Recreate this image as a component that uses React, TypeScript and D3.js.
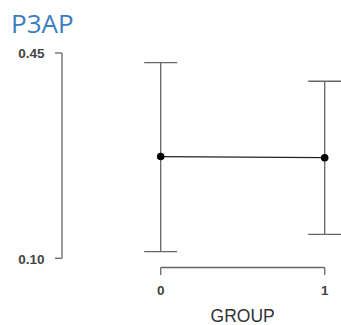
import React, { useRef, useEffect } from 'react';
import * as d3 from 'd3';

const title = 'P3AP';
const groups = [0, 1];
const means = [0.2735, 0.2715];
const lower = [0.1113, 0.1409];
const upper = [0.4335, 0.4018];
const yTicks = [0.1, 0.45];
const xLabel = 'GROUP';

const W = 341;
const H = 325;

const App: React.FC = () => {
  const svgRef = useRef<SVGSVGElement | null>(null);

  useEffect(() => {
    const svg = d3.select(svgRef.current);
    svg.selectAll('*').remove();

    const x = d3.scaleLinear().domain([0, 1]).range([160.7, 324.7]);
    const y = d3.scaleLinear().domain([0.1, 0.45]).range([258.3, 53]);
    const gray = '#666';
    const capHalf = 16.5;
    const font = '"Liberation Sans", Arial, sans-serif';

    // title
    svg.append('text')
      .attr('x', 11)
      .attr('y', 33)
      .attr('font-family', '"Open Sans", sans-serif')
      .attr('font-size', 26)
      .attr('fill', '#3b7dc2')
      .text(title);

    // y axis (R style, spanning tick range)
    const yAxisX = 62;
    svg.append('line')
      .attr('x1', yAxisX).attr('x2', yAxisX)
      .attr('y1', y(yTicks[0])).attr('y2', y(yTicks[yTicks.length - 1]))
      .attr('stroke', gray).attr('stroke-width', 1.3);
    const yt = svg.append('g').selectAll('g').data(yTicks).join('g');
    yt.append('line')
      .attr('x1', yAxisX - 7).attr('x2', yAxisX)
      .attr('y1', d => y(d)).attr('y2', d => y(d))
      .attr('stroke', gray).attr('stroke-width', 1.3);
    yt.append('text')
      .attr('x', 44.5)
      .attr('y', d => y(d))
      .attr('dy', '0.4em')
      .attr('text-anchor', 'end')
      .attr('font-family', font)
      .attr('font-size', 13.5)
      .attr('font-weight', 'bold')
      .attr('fill', '#444')
      .text(d => d3.format('.2f')(d));

    // x axis
    const xAxisY = 267.5;
    svg.append('line')
      .attr('x1', x(groups[0])).attr('x2', x(groups[groups.length - 1]))
      .attr('y1', xAxisY).attr('y2', xAxisY)
      .attr('stroke', gray).attr('stroke-width', 1.3);
    const xt = svg.append('g').selectAll('g').data(groups).join('g');
    xt.append('line')
      .attr('x1', d => x(d)).attr('x2', d => x(d))
      .attr('y1', xAxisY).attr('y2', xAxisY + 7.5)
      .attr('stroke', gray).attr('stroke-width', 1.3);
    xt.append('text')
      .attr('x', d => x(d))
      .attr('y', 294.5)
      .attr('text-anchor', 'middle')
      .attr('font-family', font)
      .attr('font-size', 13.5)
      .attr('font-weight', 'bold')
      .attr('fill', '#444')
      .text(d => String(d));

    svg.append('text')
      .attr('x', (x(groups[0]) + x(groups[1])) / 2)
      .attr('y', 321.5)
      .attr('text-anchor', 'middle')
      .attr('font-family', font)
      .attr('font-size', 17.5)
      .attr('fill', '#333')
      .text(xLabel);

    // error bars
    const eb = svg.append('g').selectAll('g').data(groups).join('g');
    eb.append('line')
      .attr('x1', d => x(d)).attr('x2', d => x(d))
      .attr('y1', (d, i) => y(lower[i])).attr('y2', (d, i) => y(upper[i]))
      .attr('stroke', gray).attr('stroke-width', 1.3);
    eb.append('line')
      .attr('x1', d => x(d) - capHalf).attr('x2', d => x(d) + capHalf)
      .attr('y1', (d, i) => y(upper[i])).attr('y2', (d, i) => y(upper[i]))
      .attr('stroke', gray).attr('stroke-width', 1.3);
    eb.append('line')
      .attr('x1', d => x(d) - capHalf).attr('x2', d => x(d) + capHalf)
      .attr('y1', (d, i) => y(lower[i])).attr('y2', (d, i) => y(lower[i]))
      .attr('stroke', gray).attr('stroke-width', 1.3);

    // mean line + points
    const line = d3.line<number>()
      .x((d, i) => x(groups[i]))
      .y(d => y(d));
    svg.append('path')
      .datum(means)
      .attr('d', line)
      .attr('fill', 'none')
      .attr('stroke', '#222')
      .attr('stroke-width', 1.3);
    svg.append('g').selectAll('circle').data(means).join('circle')
      .attr('cx', (d, i) => x(groups[i]))
      .attr('cy', d => y(d))
      .attr('r', 3.8)
      .attr('fill', '#000');
  }, []);

  return (
    <svg
      ref={svgRef}
      width={W}
      height={H}
      style={{ position: 'absolute', left: 0, top: 0, background: '#fff' }}
    />
  );
};

export default App;
